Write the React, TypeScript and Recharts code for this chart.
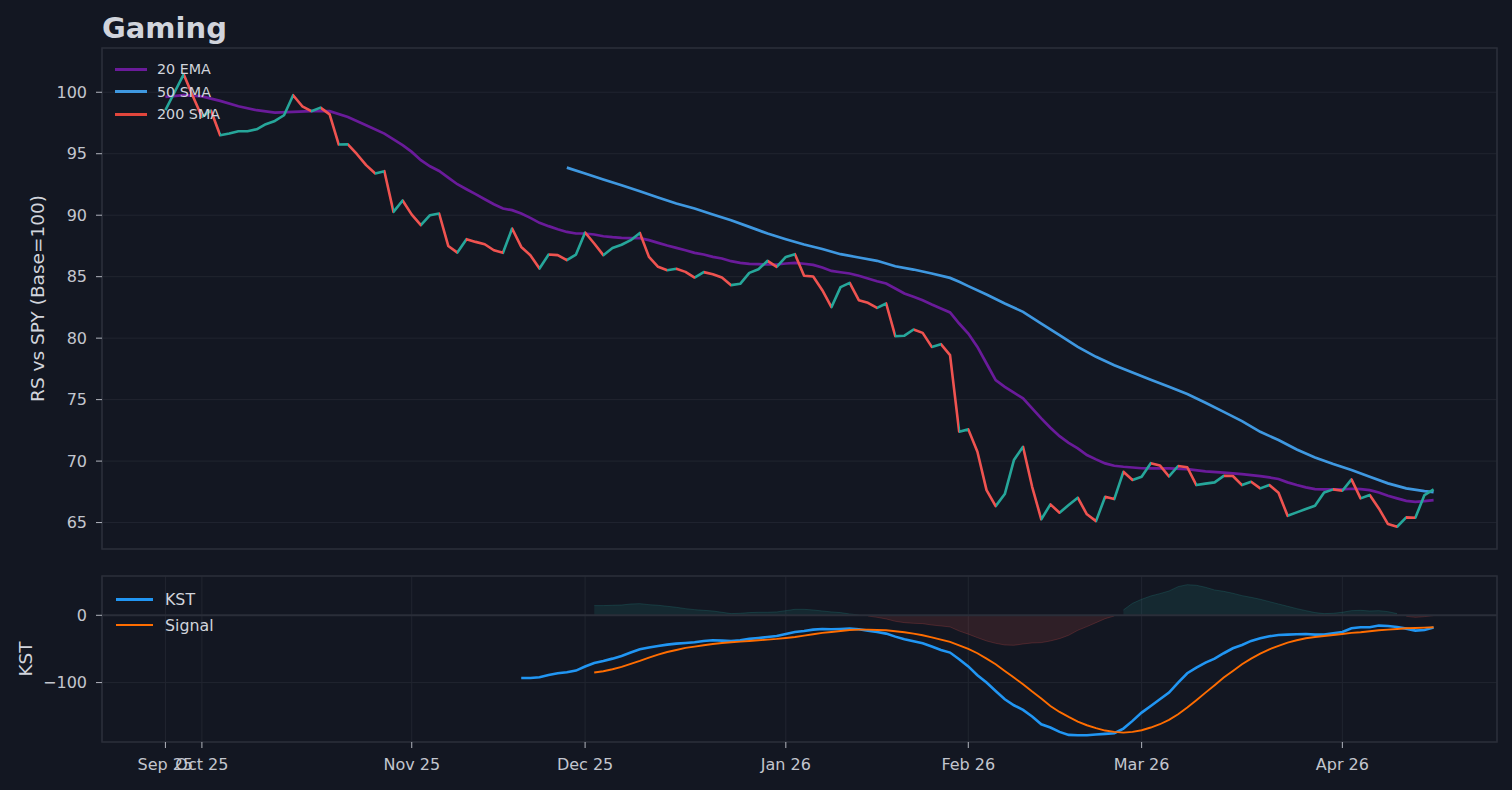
import React from 'react';
import {
  ComposedChart,
  Line,
  Area,
  XAxis,
  YAxis,
  CartesianGrid,
  ReferenceLine,
  ReferenceArea,
  Legend,
} from 'recharts';

const FONT = '"DejaVu Sans", "Noto Sans", sans-serif';
const BG = '#131722';
const TEXT = '#d1d4dc';
const TICK_TEXT = '#c3c6ce';
const GRID = '#212530';
const SPINE = '#2a2e39';
const UP = '#26a69a';
const DOWN = '#ef5350';

// x axis: trading-day index (0 = Sep 25 2025)
const X_TICKS = [0, 4, 27, 46, 68, 88, 107, 129];
const X_LABELS = ['Sep 25', 'Oct 25', 'Nov 25', 'Dec 25', 'Jan 26', 'Feb 26', 'Mar 26', 'Apr 26'];
const X_DOMAIN: [number, number] = [-6.95, 145.95];

const RS_TICKS = [65, 70, 75, 80, 85, 90, 95, 100];
const RS_DOMAIN: [number, number] = [62.85, 103.6];
const KST_TICKS = [-100, 0];
const KST_DOMAIN: [number, number] = [-188.3, 58.4];

// RS vs SPY, one value per trading day
const PRICE = [
  98.54, 100.0, 101.46, 99.7, 98.0, 98.5, 96.5, 96.64, 96.83, 96.83,
  96.99, 97.4, 97.67, 98.13, 99.76, 98.86, 98.46, 98.75, 98.2, 95.75,
  95.77, 94.96, 94.07, 93.39, 93.58, 90.27, 91.2, 90.05, 89.19, 90.0,
  90.14, 87.5, 86.96, 88.05, 87.83, 87.64, 87.15, 86.94, 88.92, 87.42,
  86.75, 85.66, 86.8, 86.75, 86.34, 86.8, 88.59, 87.7, 86.75, 87.34,
  87.6, 87.97, 88.56, 86.61, 85.8, 85.53, 85.64, 85.39, 84.93, 85.37,
  85.2, 84.93, 84.31, 84.42, 85.31, 85.61, 86.29, 85.8, 86.61, 86.83,
  85.08, 85.02, 83.9, 82.52, 84.15, 84.5, 83.09, 82.87, 82.46, 82.82,
  80.16, 80.2, 80.7, 80.43, 79.29, 79.51, 78.62, 72.39, 72.58, 70.76,
  67.64, 66.34, 67.32, 70.08, 71.16, 67.91, 65.26, 66.48, 65.8, 66.42,
  67.02, 65.67, 65.12, 67.1, 66.91, 69.13, 68.46, 68.73, 69.83, 69.65,
  68.75, 69.6, 69.5, 68.05, 68.17, 68.27, 68.8, 68.79, 68.05, 68.32,
  67.78, 68.05, 67.42, 65.55, 65.83, 66.1, 66.37, 67.45, 67.7, 67.59,
  68.51, 66.97, 67.24, 66.15, 64.88, 64.66, 65.42, 65.39, 67.24, 67.7,
];

// [day index, value]
const EMA20: [number, number][] = [
  [0, 99.62], [2, 99.76], [4, 99.67], [6, 99.3], [8, 98.86], [10, 98.54], [12, 98.35],
  [14, 98.4], [16, 98.46], [18, 98.46], [20, 97.99], [22, 97.32], [24, 96.64], [26, 95.7],
  [27, 95.15], [28, 94.47], [29, 93.98], [30, 93.6], [31, 93.06], [32, 92.52], [33, 92.11],
  [34, 91.71], [35, 91.3], [36, 90.89], [37, 90.54], [38, 90.41], [39, 90.14], [40, 89.78],
  [41, 89.38], [42, 89.11], [43, 88.86], [44, 88.64], [45, 88.51], [46, 88.51], [47, 88.43],
  [48, 88.29], [49, 88.21], [50, 88.16], [51, 88.13], [52, 88.13], [53, 87.97], [54, 87.75],
  [55, 87.53], [56, 87.34], [57, 87.15], [58, 86.94], [59, 86.8], [60, 86.61], [61, 86.48],
  [62, 86.26], [63, 86.12], [64, 86.04], [65, 86.02], [66, 85.99], [67, 85.99], [68, 86.07],
  [69, 86.12], [70, 86.05], [71, 85.96], [72, 85.74], [73, 85.47], [74, 85.36], [75, 85.26],
  [76, 85.07], [77, 84.85], [78, 84.63], [79, 84.44], [80, 84.04], [81, 83.63], [82, 83.36],
  [83, 83.09], [84, 82.74], [85, 82.41], [86, 82.09], [87, 81.19], [88, 80.38], [89, 79.29],
  [90, 77.94], [91, 76.59], [92, 76.04], [93, 75.56], [94, 75.1], [95, 74.29], [96, 73.47],
  [97, 72.71], [98, 72.03], [99, 71.49], [100, 71.03], [101, 70.49], [102, 70.14], [103, 69.81],
  [104, 69.62], [105, 69.54], [106, 69.48], [107, 69.42], [108, 69.4], [110, 69.4], [112, 69.35],
  [114, 69.16], [116, 69.06], [118, 68.94], [119, 68.86], [120, 68.78], [121, 68.67], [122, 68.54],
  [123, 68.27], [124, 68.05], [125, 67.86], [126, 67.72], [127, 67.7], [128, 67.7], [129, 67.7],
  [130, 67.75], [131, 67.72], [132, 67.64], [133, 67.45], [134, 67.18], [135, 66.97], [136, 66.77],
  [137, 66.69], [138, 66.75], [139, 66.83],
];

const SMA50: [number, number][] = [
  [44, 93.87], [46, 93.39], [48, 92.9], [50, 92.44], [52, 91.95], [54, 91.44], [56, 90.95],
  [58, 90.54], [60, 90.06], [62, 89.59], [64, 89.05], [66, 88.51], [68, 88.05], [70, 87.62],
  [72, 87.25], [74, 86.83], [76, 86.56], [78, 86.29], [80, 85.85], [82, 85.58], [84, 85.26],
  [86, 84.9], [87, 84.58], [88, 84.23], [90, 83.55], [92, 82.82], [94, 82.14], [96, 81.19],
  [98, 80.24], [100, 79.29], [102, 78.48], [104, 77.8], [106, 77.2], [108, 76.62], [110, 76.05],
  [112, 75.45], [114, 74.75], [116, 74.0], [118, 73.25], [120, 72.38], [122, 71.71], [124, 70.95],
  [126, 70.3], [128, 69.76], [130, 69.27], [132, 68.73], [134, 68.19], [136, 67.78], [138, 67.56],
  [139, 67.48],
];

const KST_START = 39;
const KST = [
  -93.1, -93.1, -92.1, -88.6, -86.1, -84.7, -82.2, -76.2, -70.8, -67.8,
  -64.4, -60.4, -55.4, -50.5, -48.0, -45.5, -43.6, -42.1, -41.1, -40.1,
  -38.1, -37.1, -37.6, -38.1, -37.1, -35.1, -33.7, -32.2, -30.7, -27.7,
  -24.8, -23.3, -21.3, -20.3, -20.8, -20.3, -19.8, -20.8, -22.8, -24.8,
  -27.2, -31.7, -35.6, -38.6, -41.6, -46.5, -51.5, -55.4, -65.3, -76,
  -89, -100, -112.4, -124.8, -133.7, -140.6, -150.5, -161.9, -166.8, -173.3,
  -177.7, -178.2, -178.2, -177.2, -176.2, -175.2, -168.3, -156.9, -144.6, -134.7,
  -124.8, -114.9, -100, -86.1, -77.7, -70.3, -64.4, -56.4, -49.0, -44.1,
  -38.1, -34.2, -31.2, -29.2, -28.7, -28.2, -27.7, -28.7, -28.7, -26.7,
  -24.8, -19.3, -17.8, -17.8, -15.3, -15.8, -17.3, -19.8, -22.8, -21.8, -18.3,
];

const SIGNAL_START = 47;
const SIGNAL = [
  -85.1, -83.2, -80.2, -76.7, -72.3, -67.8, -62.9, -58.4, -54.5, -51.5,
  -48.5, -46.5, -44.6, -42.6, -41.1, -40.1, -39.1, -38.1, -37.1, -36.1,
  -35.1, -33.7, -32.2, -30.2, -28.2, -26.2, -24.8, -23.3, -21.8, -21.3,
  -21.3, -21.8, -22.3, -23.8, -25.2, -27.2, -29.7, -32.7, -36.1, -39.6,
  -44.6, -50, -56.4, -64.4, -72.8, -82.7, -92.6, -102.5, -113.4, -123.8,
  -134.7, -143.6, -151, -157.9, -163.4, -167.8, -171.3, -173.3, -174.3, -173.3,
  -170.8, -166.8, -161.9, -155.4, -147, -137.1, -126.2, -114.9, -104, -92.6,
  -82.7, -72.8, -64.4, -56.9, -50.5, -45.5, -40.6, -37.1, -34.2, -32.2,
  -30.7, -29.2, -27.7, -26.2, -25.2, -23.8, -22.3, -21.3, -20.3, -19.3, -18.8, -18.3, -17.8,
];

const HIST_START = 47;
const HIST = [
  14.4, 14.4, 14.9, 15.3, 16.8, 17.3, 15.8, 14.9, 13.4, 11.9,
  9.9, 8.4, 7.4, 6.4, 4.5, 2.5, 3.0, 4.0, 4.5, 4.5,
  5.0, 6.9, 8.9, 8.9, 7.9, 6.4, 5.0, 4.0, 2.0, 0.5,
  -1.0, -3.0, -5.4, -8.9, -10.9, -11.9, -12.4, -14.4, -15.8, -17.3,
  -23.3, -28, -33.2, -38.1, -41.6, -44.1, -44.6, -42.6, -41.1, -40.6,
  -38.1, -34.7, -29.7, -22.3, -16.8, -10.9, -5.0, -1.0, 7.9, 17.8,
  23.8, 28.7, 32.2, 36.1, 42.6, 45.5, 44.6, 41.6, 37.6, 35.6,
  32.7, 29.2, 26.7, 23.8, 20.3, 16.8, 13.4, 9.9, 6.9, 4.0,
  2.5, 3.0, 4.5, 6.9, 7.4, 6.4, 6.9, 5.4, 2.5, -1.5, -3.0, -2.0, -0.5,
];

const TOP_LEGEND = [
  { label: '20 EMA', color: '#6a1b9a' },
  { label: '50 SMA', color: '#3f98e0' },
  { label: '200 SMA', color: '#e2463c' },
];
const BOTTOM_LEGEND = [
  { label: 'KST', color: '#2196f3' },
  { label: 'Signal', color: '#ff6d00' },
];

// ---- derived render tables ----
const priceData = PRICE.map((v, i) => ({ i, v }));
const emaData = EMA20.map(([i, v]) => ({ i, v }));
const smaData = SMA50.map(([i, v]) => ({ i, v }));

const bottomData: { i: number; kst: number | null; sig: number | null; pos: number | null; neg: number | null }[] = [];
for (let i = KST_START; i < KST_START + KST.length; i++) {
  const s = i - SIGNAL_START;
  const h = i - HIST_START;
  const hv = h >= 0 && h < HIST.length ? HIST[h] : null;
  bottomData.push({
    i,
    kst: KST[i - KST_START],
    sig: s >= 0 && s < SIGNAL.length ? SIGNAL[s] : null,
    pos: hv !== null && hv >= 0 ? hv : null,
    neg: hv !== null && hv < 0 ? hv : null,
  });
}

const n = PRICE.length - 1;
const gradStops: { off: number; color: string }[] = [];
for (let k = 0; k < n; k++) {
  const c = PRICE[k + 1] >= PRICE[k] ? UP : DOWN;
  gradStops.push({ off: k / n, color: c });
  gradStops.push({ off: (k + 1) / n, color: c });
}

const xFmt = (v: number) => {
  const idx = X_TICKS.indexOf(v);
  return idx >= 0 ? X_LABELS[idx] : '';
};
const kstFmt = (v: number) => (v < 0 ? '\u2212' + Math.abs(v) : String(v));

const TopLegendContent = () => (
  <div style={{ fontFamily: FONT, fontSize: 14.3, color: TEXT }}>
    {TOP_LEGEND.map((it) => (
      <div key={it.label} style={{ display: 'flex', alignItems: 'center', height: 22.5 }}>
        <div style={{ width: 32, height: 3, background: it.color, marginRight: 10 }} />
        <span>{it.label}</span>
      </div>
    ))}
  </div>
);

const BottomLegendContent = () => (
  <div style={{ fontFamily: FONT, fontSize: 15.8, color: TEXT }}>
    {BOTTOM_LEGEND.map((it) => (
      <div key={it.label} style={{ display: 'flex', alignItems: 'center', height: 25.7 }}>
        <div style={{ width: 37, height: 2.5, background: it.color, marginRight: 12 }} />
        <span>{it.label}</span>
      </div>
    ))}
  </div>
);

const tickStyle = { fill: TICK_TEXT, fontSize: 16, fontFamily: FONT };

export default function App() {
  return (
    <div
      style={{
        position: 'fixed',
        left: 0,
        top: 0,
        width: 1512,
        height: 790,
        background: BG,
        fontFamily: FONT,
        overflow: 'hidden',
      }}
    >
      <div style={{ position: 'absolute', left: 0, top: 0 }}>
        <ComposedChart
          width={1512}
          height={580}
          data={priceData}
          margin={{ top: 48, right: 15, bottom: 11, left: 42 }}
        >
          <defs>
            <linearGradient id="priceGrad" x1="0" y1="0" x2="1" y2="0">
              {gradStops.map((s, k) => (
                <stop key={k} offset={s.off} stopColor={s.color} />
              ))}
            </linearGradient>
          </defs>
          <CartesianGrid stroke={GRID} strokeWidth={1} />
          <ReferenceArea
            x1={X_DOMAIN[0]}
            x2={X_DOMAIN[1]}
            y1={RS_DOMAIN[0]}
            y2={RS_DOMAIN[1]}
            fill="none"
            fillOpacity={0}
            stroke={SPINE}
            strokeWidth={1.6}
            ifOverflow="visible"
          />
          <XAxis
            type="number"
            dataKey="i"
            domain={X_DOMAIN}
            allowDataOverflow
            ticks={X_TICKS}
            interval={0}
            tick={false}
            tickSize={6}
            tickLine={{ stroke: '#b2b5be' }}
            axisLine={false}
            height={20}
          />
          <YAxis
            type="number"
            domain={RS_DOMAIN}
            allowDataOverflow
            ticks={RS_TICKS}
            interval={0}
            width={60}
            tickSize={6}
            tickMargin={9}
            tick={tickStyle}
            tickLine={{ stroke: '#b2b5be' }}
            axisLine={false}
          />
          <Legend
            layout="vertical"
            align="center"
            verticalAlign="middle"
            content={() => <TopLegendContent />}
            wrapperStyle={{ left: 115, top: 58, width: 200, height: 70 }}
          />
          <Line
            data={emaData}
            dataKey="v"
            type="linear"
            stroke="#6a1b9a"
            strokeWidth={2.7}
            dot={false}
            activeDot={false}
            isAnimationActive={false}
          />
          <Line
            data={smaData}
            dataKey="v"
            type="linear"
            stroke="#3f98e0"
            strokeWidth={2.7}
            dot={false}
            activeDot={false}
            isAnimationActive={false}
          />
          <Line
            dataKey="v"
            type="linear"
            stroke="url(#priceGrad)"
            strokeWidth={2.6}
            strokeLinejoin="round"
            dot={false}
            activeDot={false}
            isAnimationActive={false}
          />
        </ComposedChart>
      </div>

      <div style={{ position: 'absolute', left: 0, top: 560 }}>
        <ComposedChart
          width={1512}
          height={230}
          data={bottomData}
          margin={{ top: 16, right: 15, bottom: 18, left: 42 }}
        >
          <CartesianGrid stroke={GRID} strokeWidth={1} />
          <ReferenceArea
            x1={X_DOMAIN[0]}
            x2={X_DOMAIN[1]}
            y1={KST_DOMAIN[0]}
            y2={KST_DOMAIN[1]}
            fill="none"
            fillOpacity={0}
            stroke={SPINE}
            strokeWidth={1.6}
            ifOverflow="visible"
          />
          <XAxis
            type="number"
            dataKey="i"
            domain={X_DOMAIN}
            allowDataOverflow
            ticks={X_TICKS}
            interval={0}
            tickFormatter={xFmt}
            tick={tickStyle}
            tickSize={6}
            tickMargin={11}
            tickLine={{ stroke: '#b2b5be' }}
            axisLine={false}
            height={30}
          />
          <YAxis
            type="number"
            domain={KST_DOMAIN}
            allowDataOverflow
            ticks={KST_TICKS}
            interval={0}
            tickFormatter={kstFmt}
            width={60}
            tickSize={6}
            tickMargin={9}
            tick={tickStyle}
            tickLine={{ stroke: '#b2b5be' }}
            axisLine={false}
          />
          <Legend
            layout="vertical"
            align="center"
            verticalAlign="middle"
            content={() => <BottomLegendContent />}
            wrapperStyle={{ left: 116, top: 26.5, width: 200, height: 55 }}
          />
          <Area
            dataKey="pos"
            type="linear"
            baseValue={0}
            fill={UP}
            fillOpacity={0.13}
            stroke={UP}
            strokeOpacity={0.2}
            strokeWidth={1}
            dot={false}
            activeDot={false}
            isAnimationActive={false}
          />
          <Area
            dataKey="neg"
            type="linear"
            baseValue={0}
            fill={DOWN}
            fillOpacity={0.13}
            stroke={DOWN}
            strokeOpacity={0.2}
            strokeWidth={1}
            dot={false}
            activeDot={false}
            isAnimationActive={false}
          />
          <ReferenceLine y={0} stroke={SPINE} strokeWidth={2} />
          <Line
            dataKey="kst"
            type="linear"
            stroke="#2196f3"
            strokeWidth={2.6}
            dot={false}
            activeDot={false}
            isAnimationActive={false}
          />
          <Line
            dataKey="sig"
            type="linear"
            stroke="#ff6d00"
            strokeWidth={1.9}
            dot={false}
            activeDot={false}
            isAnimationActive={false}
          />
        </ComposedChart>
      </div>

      <svg
        width={1512}
        height={790}
        style={{ position: 'absolute', left: 0, top: 0, pointerEvents: 'none' }}
      >
        <text x={102} y={37.5} fill={TEXT} fontFamily={FONT} fontWeight="bold" fontSize={29}>
          Gaming
        </text>
        <text
          x={0}
          y={0}
          transform="translate(37,298.5) rotate(-90)"
          textAnchor="middle"
          dominantBaseline="central"
          fill={TEXT}
          fontFamily={FONT}
          fontSize={18.5}
        >
          RS vs SPY (Base=100)
        </text>
        <text
          x={0}
          y={0}
          transform="translate(25,659) rotate(-90)"
          textAnchor="middle"
          dominantBaseline="central"
          fill={TEXT}
          fontFamily={FONT}
          fontSize={18.5}
        >
          KST
        </text>
      </svg>
    </div>
  );
}
